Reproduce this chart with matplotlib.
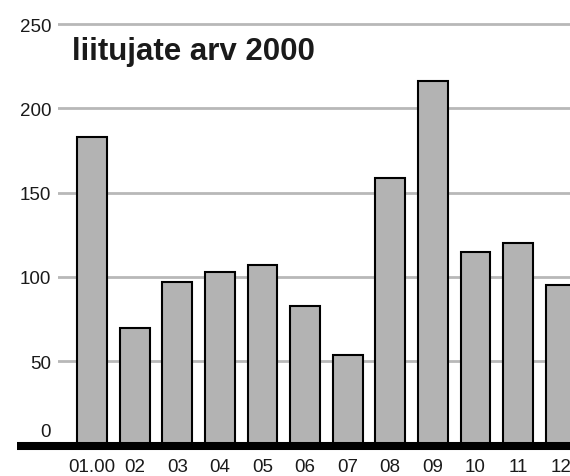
import matplotlib
matplotlib.use("Agg")
import matplotlib.pyplot as plt
from matplotlib.transforms import blended_transform_factory, ScaledTranslation

months = ["01.00", "02", "03", "04", "05", "06", "07", "08", "09", "10", "11", "12"]
values = [183, 70, 97, 103, 107, 83, 54, 159, 216, 115, 120, 95]
y_ticks = [0, 50, 100, 150, 200, 250]
title = "liitujate arv 2000"

plt.rcParams['font.family'] = ['Liberation Sans', 'DejaVu Sans']

W, H = 570, 477
fig = plt.figure(figsize=(W / 100, H / 100), dpi=100)
px_per_unit = 84.3 / 50
ax_bottom = 477 - 446.6
ymax = 262
ax = fig.add_axes([58 / W, ax_bottom / H, 1 - 58 / W, ymax * px_per_unit / H])

x = list(range(len(months)))
ax.bar(x, values, width=0.7, color="#b3b3b3", edgecolor="black", linewidth=1.5, zorder=3)

ax.set_xlim(-0.8, 11.22)
ax.set_ylim(0, ymax)
ax.set_yticks(y_ticks)
ax.set_yticklabels([str(v) for v in y_ticks])
ax.set_xticks(x)
ax.set_xticklabels(months)
ax.tick_params(axis='both', length=0, labelsize=13.5, colors="#1a1a1a")
ax.tick_params(axis='y', pad=5)
ax.tick_params(axis='x', pad=9)
for s in ax.spines.values():
    s.set_visible(False)
ax.yaxis.grid(True, color="#b8b8b8", linewidth=2.0)
ax.set_axisbelow(True)

# shift the "0" label upward like the reference
lbl0 = ax.get_yticklabels()[0]
lbl0.set_transform(lbl0.get_transform() + ScaledTranslation(0, 16 / 100, fig.dpi_scale_trans))

# thick baseline
tr = blended_transform_factory(fig.transFigure, ax.transData)
ax.plot([16.7 / W, 1.0], [0, 0], transform=tr, color="black", linewidth=5.8,
        solid_capstyle="butt", clip_on=False, zorder=5)

fig.text(72 / W, (H - 60) / H, title, fontsize=22.5, fontweight="bold",
         color="#1a1a1a", va="baseline", ha="left")

fig.savefig("out.png", dpi=100)
